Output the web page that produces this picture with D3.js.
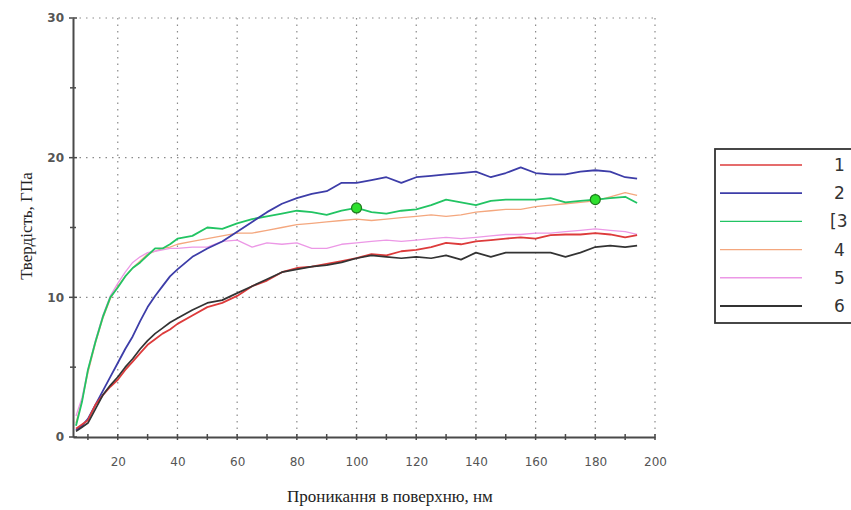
<!DOCTYPE html>
<html>
<head>
<meta charset="utf-8">
<script src="https://cdn.jsdelivr.net/npm/d3@7"></script>
<style>
  html, body { margin: 0; padding: 0; background: #fff; }
  svg { display: block; }
</style>
</head>
<body>
<svg id="chart" width="851" height="510"></svg>
<script>
// Penetration depth, nm
const depth = [6, 8, 10, 12.5, 15, 17.5, 20, 22.5, 25, 27.5, 30, 32.5, 35, 37.5, 40, 45, 50, 55, 60, 65, 70, 75, 80, 85, 90, 95, 100, 105, 110, 115, 120, 125, 130, 135, 140, 145, 150, 155, 160, 165, 170, 175, 180, 185, 190, 194];

// Hardness, GPa, for each sample
const s1 = [0.6, 0.9, 1.2, 2.3, 3.0, 3.6, 4.1, 4.8, 5.4, 6.0, 6.6, 7.0, 7.4, 7.7, 8.1, 8.7, 9.3, 9.6, 10.1, 10.8, 11.2, 11.8, 12.1, 12.2, 12.4, 12.6, 12.8, 13.1, 13.0, 13.3, 13.4, 13.6, 13.9, 13.8, 14.0, 14.1, 14.2, 14.3, 14.2, 14.45, 14.5, 14.5, 14.6, 14.5, 14.3, 14.45];
const s2 = [0.5, 0.8, 1.3, 2.3, 3.3, 4.3, 5.3, 6.3, 7.2, 8.3, 9.3, 10.1, 10.8, 11.5, 12.0, 12.9, 13.5, 14.0, 14.7, 15.4, 16.1, 16.7, 17.1, 17.4, 17.6, 18.2, 18.2, 18.4, 18.6, 18.2, 18.6, 18.7, 18.8, 18.9, 19.0, 18.6, 18.9, 19.3, 18.9, 18.8, 18.8, 19.0, 19.1, 19.0, 18.6, 18.5];
const s3 = [0.8, 2.5, 4.8, 6.8, 8.6, 10.0, 10.7, 11.5, 12.1, 12.5, 13.0, 13.5, 13.5, 13.8, 14.2, 14.4, 15.0, 14.9, 15.3, 15.6, 15.8, 16.0, 16.2, 16.1, 15.9, 16.2, 16.4, 16.1, 16.0, 16.2, 16.3, 16.6, 17.0, 16.8, 16.6, 16.9, 17.0, 17.0, 17.0, 17.1, 16.8, 16.9, 17.0, 17.1, 17.2, 16.75];
const s4 = [1.0, 2.6, 4.6, 6.7, 8.5, 9.9, 10.8, 11.5, 12.1, 12.6, 13.1, 13.3, 13.5, 13.6, 13.8, 14.0, 14.2, 14.4, 14.6, 14.6, 14.8, 15.0, 15.2, 15.3, 15.4, 15.5, 15.6, 15.5, 15.6, 15.7, 15.8, 15.9, 15.8, 15.9, 16.1, 16.2, 16.3, 16.3, 16.5, 16.6, 16.7, 16.8, 16.9, 17.2, 17.5, 17.3];
const s5 = [1.5, 2.8, 4.8, 6.9, 8.7, 10.1, 11.0, 11.8, 12.5, 12.9, 13.2, 13.3, 13.4, 13.5, 13.5, 13.6, 13.6, 14.0, 14.1, 13.6, 13.9, 13.8, 13.9, 13.5, 13.5, 13.8, 13.9, 14.0, 14.1, 14.0, 14.1, 14.2, 14.3, 14.2, 14.3, 14.4, 14.5, 14.5, 14.6, 14.6, 14.7, 14.8, 14.9, 14.8, 14.7, 14.5];
const s6 = [0.4, 0.7, 1.0, 2.0, 3.0, 3.7, 4.3, 5.0, 5.6, 6.3, 6.9, 7.4, 7.8, 8.2, 8.5, 9.1, 9.6, 9.8, 10.3, 10.8, 11.3, 11.8, 12.0, 12.2, 12.3, 12.5, 12.8, 13.0, 12.9, 12.8, 12.9, 12.8, 13.0, 12.7, 13.2, 12.9, 13.2, 13.2, 13.2, 13.2, 12.9, 13.2, 13.6, 13.7, 13.6, 13.7];

// Legend labels and line colours
const seriesNames = ["1", "2", "[3", "4", "5", "6"];
const seriesColors = ["#dd3b3b", "#3d3da8", "#22c463", "#f4a77e", "#ec98e6", "#333333"];

// Marked points on sample 3
const markDepth = [100, 180];
const markValue = [16.4, 17.0];

// Axis ticks
const xTicks = [20, 40, 60, 80, 100, 120, 140, 160, 180, 200];
const xMinor = [10, 30, 50, 70, 90, 110, 130, 150, 170, 190];
const yTicks = [0, 10, 20, 30];
const yMinor = [5, 15, 25];

const xTitle = "Проникання в поверхню, нм";
const yTitle = "Твердість, ГПа";

const svg = d3.select("#chart");
const x = d3.scaleLinear().domain([5, 200]).range([73, 655]);
const y = d3.scaleLinear().domain([0, 30]).range([437, 18]);

// dotted grid
const grid = svg.append("g").attr("stroke", "#8a8a8a").attr("stroke-width", 1.2)
  .attr("stroke-dasharray", "1.5,5");
grid.selectAll("line.v").data(xTicks).join("line")
  .attr("x1", d => x(d)).attr("x2", d => x(d))
  .attr("y1", y(30)).attr("y2", y(0));
grid.selectAll("line.h").data(yTicks.filter(d => d > 0)).join("line")
  .attr("x1", x(5)).attr("x2", x(200))
  .attr("y1", d => y(d)).attr("y2", d => y(d));

// axes
const axisColor = "#4a4a4a";
const gx = svg.append("g").attr("transform", `translate(0,${y(0)})`)
  .call(d3.axisBottom(x).tickValues(xTicks).tickSize(0).tickPadding(20));
gx.select(".domain").attr("stroke", axisColor).attr("stroke-width", 2);
gx.selectAll(".tick text").attr("font-family", "DejaVu Sans, sans-serif")
  .attr("font-size", 12).attr("fill", "#555");
gx.selectAll("line.mt").data(xTicks.concat(xMinor)).join("line")
  .attr("x1", d => x(d)).attr("x2", d => x(d)).attr("y1", -3).attr("y2", 3)
  .attr("stroke", axisColor).attr("stroke-width", 1.5);

const gy = svg.append("g").attr("transform", `translate(${x(5)},0)`)
  .call(d3.axisLeft(y).tickValues(yTicks).tickSize(0).tickPadding(9));
gy.select(".domain").attr("stroke", axisColor).attr("stroke-width", 2);
gy.selectAll(".tick text").attr("font-family", "DejaVu Sans, sans-serif")
  .attr("font-size", 12).attr("fill", "#555").attr("font-weight", "bold");
gy.selectAll("line.mt").data(yTicks).join("line")
  .attr("x1", -4).attr("x2", 4).attr("y1", d => y(d)).attr("y2", d => y(d))
  .attr("stroke", axisColor).attr("stroke-width", 1.5);
gy.selectAll("line.mn").data(yMinor).join("line")
  .attr("x1", -3).attr("x2", 3).attr("y1", d => y(d)).attr("y2", d => y(d))
  .attr("stroke", axisColor).attr("stroke-width", 1.5);

// curves
const allSeries = [s1, s2, s3, s4, s5, s6];
const drawOrder = [3, 4, 2, 1, 0, 5];
const widths = [1.8, 1.8, 1.8, 1.3, 1.3, 1.7];
const line = d3.line().x((d, i) => x(depth[i])).y(d => y(d)).curve(d3.curveLinear);
const curves = svg.append("g").attr("fill", "none").attr("stroke-linejoin", "round");
drawOrder.forEach(k => {
  curves.append("path").datum(allSeries[k])
    .attr("d", line)
    .attr("stroke", seriesColors[k])
    .attr("stroke-width", widths[k]);
});

// markers on sample 3
svg.append("g").selectAll("circle").data(markDepth).join("circle")
  .attr("cx", d => x(d)).attr("cy", (d, i) => y(markValue[i]))
  .attr("r", 5).attr("fill", "#2ee02e").attr("stroke", "#1d7a1d").attr("stroke-width", 1.2);

// axis titles
svg.append("text").attr("x", 390).attr("y", 502).attr("text-anchor", "middle")
  .attr("font-family", "Liberation Serif, serif").attr("font-size", 17).attr("fill", "#222")
  .text(xTitle);
svg.append("text").attr("transform", "translate(32,226) rotate(-90)").attr("text-anchor", "middle")
  .attr("font-family", "Liberation Serif, serif").attr("font-size", 17).attr("fill", "#222")
  .text(yTitle);

// legend
const lg = svg.append("g");
lg.append("rect").attr("x", 715).attr("y", 149).attr("width", 150).attr("height", 174)
  .attr("fill", "#fff").attr("stroke", "#333").attr("stroke-width", 1.8);
const ly = d3.scalePoint().domain(seriesNames).range([165, 306]);
lg.selectAll("line").data(seriesNames).join("line")
  .attr("x1", 720).attr("x2", 802)
  .attr("y1", d => ly(d)).attr("y2", d => ly(d))
  .attr("stroke", (d, i) => seriesColors[i]).attr("stroke-width", (d, i) => i === 1 || i === 5 ? 1.8 : 1.4);
lg.selectAll("text").data(seriesNames).join("text")
  .attr("x", (d, i) => i === 2 ? 830 : 834).attr("y", d => ly(d) + 6)
  .attr("font-family", "DejaVu Sans, sans-serif").attr("font-size", 17).attr("fill", "#333")
  .text(d => d);
</script>
</body>
</html>
